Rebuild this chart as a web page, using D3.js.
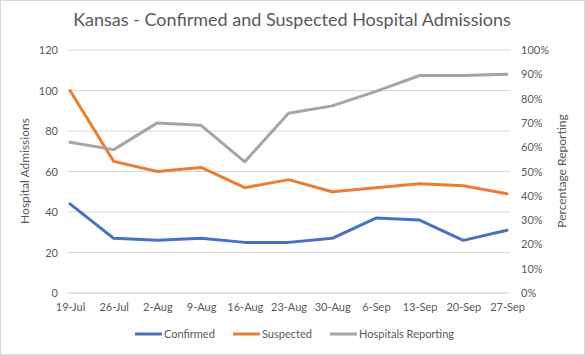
<!DOCTYPE html>
<html><head><meta charset="utf-8">
<script src="https://cdn.jsdelivr.net/npm/d3@7"></script>
<style>body{margin:0;background:#fff}svg{display:block;font-family:Lato,"Open Sans",sans-serif}</style>
</head><body>
<svg id="c" width="585" height="355"></svg>
<script>
const categories = ["19-Jul","26-Jul","2-Aug","9-Aug","16-Aug","23-Aug","30-Aug","6-Sep","13-Sep","20-Sep","27-Sep"];
const confirmed = [44,27,26,27,25,25,27,37,36,26,31];
const suspected = [100,65,60,62,52,56,50,52,54,53,49];
const hospitalsReporting = [0.62,0.59,0.70,0.69,0.54,0.74,0.77,0.83,0.895,0.895,0.90];
const leftTicks = [0,20,40,60,80,100,120];
const rightTicks = [0,0.1,0.2,0.3,0.4,0.5,0.6,0.7,0.8,0.9,1.0];

const svg = d3.select("#c");
svg.append("rect").attr("x",0.5).attr("y",0.5).attr("width",584).attr("height",354).attr("fill","#fff").attr("stroke","#d9d9d9");

const x = d3.scalePoint().domain(categories).range([70,507]);
const yL = d3.scaleLinear().domain([0,120]).range([293,50]);
const yR = d3.scaleLinear().domain([0,1]).range([293,50]);
const txt = "#595959";

svg.append("g").selectAll("line").data(leftTicks).join("line")
  .attr("x1",67).attr("x2",510).attr("y1",d=>yL(d)).attr("y2",d=>yL(d))
  .attr("stroke","#d9d9d9").attr("stroke-width",1);

const gl = svg.append("g").attr("transform","translate(58,0)")
  .call(d3.axisLeft(yL).tickValues(leftTicks).tickSize(0).tickPadding(0));
gl.select(".domain").remove();
gl.selectAll("text").attr("fill",txt).style("font-size","11px").style("font-family","Lato,sans-serif");

const gr = svg.append("g").attr("transform","translate(521,0)")
  .call(d3.axisRight(yR).tickValues(rightTicks).tickFormat(d3.format(".0%")).tickSize(0).tickPadding(0));
gr.select(".domain").remove();
gr.selectAll("text").attr("fill",txt).style("font-size","11px").style("font-family","Lato,sans-serif");

const gx = svg.append("g").attr("transform","translate(0,293)")
  .call(d3.axisBottom(x).tickSize(0).tickPadding(10));
gx.select(".domain").attr("stroke","#d9d9d9");
gx.selectAll("text").attr("fill",txt).style("font-size","11px").style("font-family","Lato,sans-serif");

svg.append("text").attr("transform","translate(29,171) rotate(-90)").attr("text-anchor","middle")
  .attr("fill",txt).style("font-size","12px").text("Hospital Admissions");
svg.append("text").attr("transform","translate(566,171) rotate(-90)").attr("text-anchor","middle")
  .attr("fill",txt).style("font-size","12px").text("Percentage Reporting");

svg.append("text").attr("x",292).attr("y",26).attr("text-anchor","middle")
  .attr("fill",txt).style("font-size","18px").text("Kansas - Confirmed and Suspected Hospital Admissions");

const lineL = d3.line().x((d,i)=>x(categories[i])).y(d=>yL(d));
const lineR = d3.line().x((d,i)=>x(categories[i])).y(d=>yR(d));
const series = [
  {name:"Confirmed", data:confirmed, color:"#4472C4", line:lineL},
  {name:"Suspected", data:suspected, color:"#ED7D31", line:lineL},
  {name:"Hospitals Reporting", data:hospitalsReporting, color:"#A5A5A5", line:lineR}
];
series.forEach(s=>{
  svg.append("path").attr("d",s.line(s.data)).attr("fill","none")
    .attr("stroke",s.color).attr("stroke-width",3).attr("stroke-linejoin","round").attr("stroke-linecap","round");
});

const legX = [135,233,330];
series.forEach((s,i)=>{
  const g = svg.append("g").attr("transform",`translate(${legX[i]},334)`);
  g.append("line").attr("x1",0).attr("x2",27).attr("stroke",s.color).attr("stroke-width",3);
  g.append("text").attr("x",29).attr("y",4).attr("fill",txt).style("font-size","11px").text(s.name);
});
</script>
</body></html>
